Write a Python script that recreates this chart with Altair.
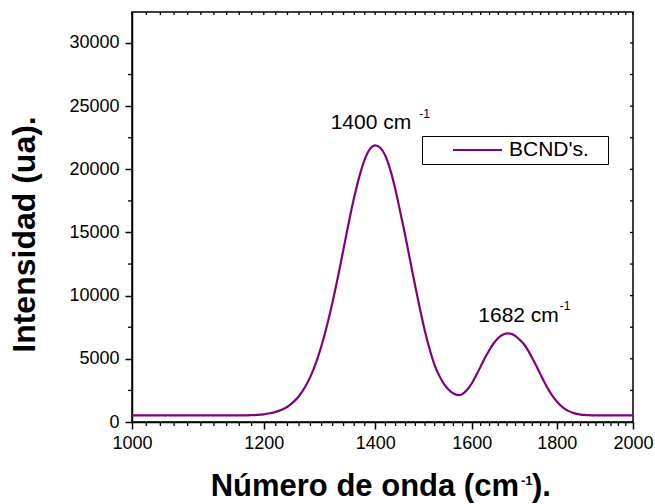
import altair as alt
import pandas as pd

# ---------------- data ----------------
wavenumber = list(range(1000, 2001, 10))
intensity = [
    520, 520, 520, 520, 520, 520, 520, 520, 520, 520,        # 1000-1090
    520, 520, 520, 521, 522, 522, 525, 530, 540, 560,        # 1100-1190
    610, 690, 800, 970, 1210, 1570, 2060, 2730, 3590, 4700,  # 1200-1290
    6070, 7700, 9540, 11560, 13700, 15850, 17800, 19480, 20780, 21610,  # 1300-1390
    21900, 21700, 21050, 19900, 18350, 16500, 14650, 12650, 10700, 8850,  # 1400-1490
    7150, 5700, 4500, 3650, 3000, 2550, 2250, 2120, 2230, 2550,  # 1500-1590
    3050, 3700, 4400, 5100, 5720, 6250, 6650, 6900, 7010, 6980,  # 1600-1690
    6800, 6500, 6150, 5650, 5050, 4420, 3750, 3100, 2520, 2030,  # 1700-1790
    1620, 1290, 1040, 860, 730, 640, 590, 560, 540, 530,     # 1800-1890
    525, 522, 520, 520, 520, 520, 520, 520, 520, 520, 520,   # 1900-2000
]
series_name = "BCND's."

x_ticks = [1000, 1200, 1400, 1600, 1800, 2000]
y_ticks = [0, 5000, 10000, 15000, 20000, 25000, 30000]
x_minor = [1020, 1040, 1060, 1080, 1100, 1120, 1140, 1160, 1180,
           1220, 1240, 1260, 1280, 1300, 1320, 1340, 1360, 1380,
           1420, 1440, 1460, 1480, 1500, 1520, 1540, 1560, 1580,
           1620, 1640, 1660, 1680, 1700, 1720, 1740, 1760, 1780,
           1820, 1840, 1860, 1880, 1900, 1920, 1940, 1960, 1980]
y_minor = [2500, 7500, 12500, 17500, 22500, 27500]

peak1 = {"x": [1400], "y": [21900], "t": ["1400 cm"], "s": ["-1"]}
peak2 = {"x": [1682], "y": [7008], "t": ["1682 cm"], "s": ["-1"]}

x_title_main = "Número de onda (cm"
x_title_sup = "-1"
x_title_end = ")."
y_title = "Intensidad (ua)."

FONT = "Liberation Sans"
W, H = 501, 410

xscale = alt.Scale(type="log", domain=[1000, 2000], nice=False)
yscale = alt.Scale(domain=[0, 32450], nice=False, zero=False)

x_axis = alt.Axis(values=x_ticks, format="d", title=None, tickSize=7,
                  labelPadding=5, labelFontSize=18, labelFont=FONT,
                  labelFlush=False, labelOverlap=False, labelBound=False)
y_axis = alt.Axis(values=y_ticks, format="d", title=y_title, tickSize=7,
                  labelPadding=6, labelFontSize=18, labelFont=FONT,
                  labelFlush=False, labelOverlap=False,
                  titleFont=FONT, titleFontSize=32, titleFontWeight="bold",
                  titleAngle=270, titleX=-98, titleY=222, titleAlign="center",
                  titleBaseline="alphabetic", titleColor="black")


def X(field):
    return alt.X(field, scale=xscale, axis=x_axis, title=None)


def Y(field):
    return alt.Y(field, scale=yscale, axis=y_axis, title=y_title)


df = pd.DataFrame({"x": wavenumber, "y": intensity, "series": series_name})

line = alt.Chart(df).mark_line(strokeWidth=2.2, interpolate="monotone").encode(
    x=X("x:Q"),
    y=Y("y:Q"),
    color=alt.Color("series:N",
                    scale=alt.Scale(domain=[series_name], range=["#800080"]),
                    legend=alt.Legend(title=None, orient="none", legendX=290, legendY=124,
                                      padding=4, strokeColor="black", fillColor="white",
                                      labelFont=FONT, labelFontSize=21, labelColor="black",
                                      symbolType="stroke", symbolSize=2400,
                                      symbolStrokeWidth=2, symbolOffset=26,
                                      labelOffset=6, clipHeight=20,
                                      labelExpr="datum.label + '\u2800'")),
)

# minor / frame ticks drawn through the shared scales
bx = pd.DataFrame({"x": x_minor})
by = pd.DataFrame({"y": y_minor})
tx = pd.DataFrame({"x": x_ticks + x_minor})
ty = pd.DataFrame({"y": y_ticks + y_minor})

bottom_minor = alt.Chart(bx).mark_rule(color="black", strokeWidth=1.3).encode(
    x=X("x:Q"), y=alt.value(H), y2=alt.value(H + 4))
left_minor = alt.Chart(by).mark_rule(color="black", strokeWidth=1.3).encode(
    y=Y("y:Q"), x=alt.value(0), x2=alt.value(-4))
top_ticks = alt.Chart(tx).mark_rule(color="black", strokeWidth=1.3).encode(
    x=X("x:Q"), y=alt.value(0), y2=alt.value(3))
right_ticks = alt.Chart(ty).mark_rule(color="black", strokeWidth=1.3).encode(
    y=Y("y:Q"), x=alt.value(W), x2=alt.value(W - 3))


def peak_label(d, dx_main, dy_main, dx_sup, dy_sup):
    src = alt.Chart(pd.DataFrame(d))
    enc = dict(x=X("x:Q"), y=Y("y:Q"))
    main = src.mark_text(align="right", baseline="alphabetic", font=FONT, fontSize=21,
                         color="black", dx=dx_main, dy=dy_main).encode(text="t:N", **enc)
    sup = src.mark_text(align="left", baseline="alphabetic", font=FONT, fontSize=12,
                        color="black", dx=dx_sup, dy=dy_sup).encode(text="s:N", **enc)
    return [main, sup]


labels = peak_label(peak1, 36, -16, 44, -27) + peak_label(peak2, 51, -11, 52, -23.5)

xt = pd.DataFrame({"a": [x_title_main], "b": [x_title_sup], "c": [x_title_end]})
xt_main = alt.Chart(xt).mark_text(align="right", baseline="alphabetic", font=FONT,
                                  fontSize=31, fontWeight="bold", color="black").encode(
    text="a:N", x=alt.value(387), y=alt.value(484))
xt_sup = alt.Chart(xt).mark_text(align="left", baseline="alphabetic", font=FONT,
                                 fontSize=13, fontWeight="bold", color="black").encode(
    text="b:N", x=alt.value(389), y=alt.value(473))
xt_end = alt.Chart(xt).mark_text(align="left", baseline="alphabetic", font=FONT,
                                 fontSize=31, fontWeight="bold", color="black").encode(
    text="c:N", x=alt.value(400), y=alt.value(484))

chart = alt.layer(
    line, bottom_minor, left_minor, top_ticks, right_ticks, *labels, xt_main, xt_sup, xt_end
).properties(
    width=W, height=H,
    autosize=alt.AutoSizeParams(type="none"),
    padding={"left": 132, "top": 12, "right": 22, "bottom": 82},
).configure(
    background="white",
).configure_view(
    stroke="black", strokeWidth=1.5,
).configure_axis(
    grid=False, domainColor="black", domainWidth=1.5, tickColor="black", tickWidth=1.5,
    labelColor="black",
)

chart.save("out.html", embed_options={"renderer": "svg", "actions": False})
